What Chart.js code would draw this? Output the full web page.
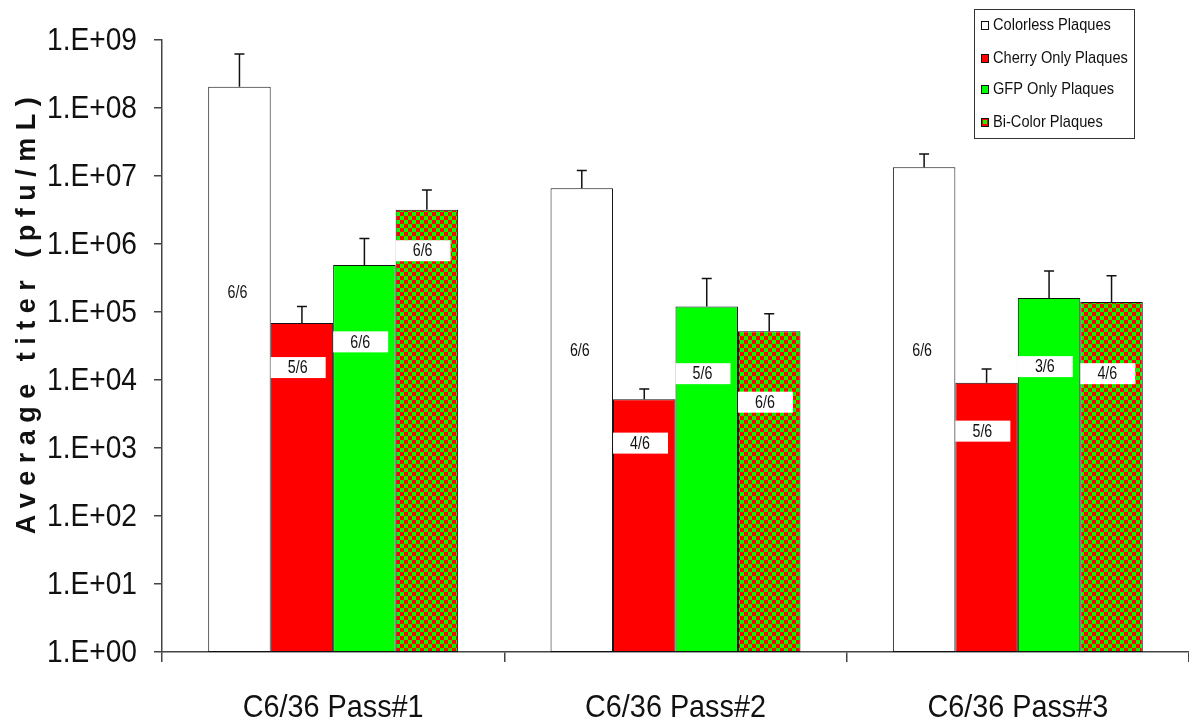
<!DOCTYPE html>
<html>
<head>
<meta charset="utf-8">
<script src="https://cdn.jsdelivr.net/npm/chart.js@4.4.1/dist/chart.umd.min.js"></script>
<style>
  html, body { margin: 0; padding: 0; background: #fff; }
  #wrap { width: 1189px; height: 724px; position: relative; }
</style>
</head>
<body>
<div id="wrap"><canvas id="myChart"></canvas></div>
<script>
// data
const categories = ['C6/36 Pass#1', 'C6/36 Pass#2', 'C6/36 Pass#3'];
const seriesNames = ['Colorless Plaques', 'Cherry Only Plaques', 'GFP Only Plaques', 'Bi-Color Plaques'];

const colorless = [2.05e8, 6.6e6, 1.35e7];
const cherryOnly = [6.9e4, 5.2e3, 9.1e3];
const gfpOnly = [4.9e5, 1.2e5, 1.6e5];
const biColor = [3.2e6, 5.2e4, 1.4e5];

// top of error bars
const colorlessErr = [6.2e8, 1.2e7, 2.1e7];
const cherryErr = [1.2e5, 7.4e3, 1.45e4];
const gfpErr = [1.2e6, 3.1e5, 4.0e5];
const biErr = [6.2e6, 9.4e4, 3.4e5];

// positive-sample fractions, and the titer level they are printed at
const colorlessN = ['6/6', '6/6', '6/6'];
const cherryN = ['5/6', '4/6', '5/6'];
const gfpN = ['6/6', '5/6', '3/6'];
const biN = ['6/6', '6/6', '4/6'];
const colorlessAt = [2.0e5, 2.8e4, 2.8e4];
const cherryAt = [1.55e4, 1.2e3, 1.8e3];
const gfpAt = [3.7e4, 1.26e4, 1.6e4];
const biAt = [8.1e5, 4.8e3, 1.26e4];

const yTicks = [1e0, 1e1, 1e2, 1e3, 1e4, 1e5, 1e6, 1e7, 1e8, 1e9];

const SANS = "'Liberation Sans', Arial, sans-serif";

// red / green checker fill
function checker() {
    var c = document.createElement('canvas');
    c.width = 8; c.height = 8;
    var g = c.getContext('2d');
    g.fillStyle = '#ff0000';
    g.fillRect(0, 0, 8, 8);
    g.fillStyle = '#00ff00';
    g.fillRect(0, 0, 4, 4);
    g.fillRect(4, 4, 4, 4);
    return g.createPattern(c, 'repeat');
}
const checkerFill = checker();

const errs = [colorlessErr, cherryErr, gfpErr, biErr];
const fracs = [colorlessN, cherryN, gfpN, biN];
const fracAt = [colorlessAt, cherryAt, gfpAt, biAt];

// no narrow font installed, so squeeze the text horizontally
function narrowText(ctx, txt, x, y, size, squeeze, align) {
    ctx.save();
    ctx.translate(x, y);
    ctx.scale(squeeze, 1);
    ctx.font = size + 'px ' + SANS;
    ctx.textAlign = align;
    ctx.textBaseline = 'middle';
    ctx.fillStyle = '#111';
    ctx.fillText(txt, 0, 0);
    ctx.restore();
}

const extras = {
    id: 'extras',
    afterDatasetsDraw(chart) {
        const ctx = chart.ctx;
        const y = chart.scales.y;
        ctx.save();
        // error bars (upper only)
        chart.data.datasets.forEach(function (ds, i) {
            chart.getDatasetMeta(i).data.forEach(function (bar, j) {
                var top = y.getPixelForValue(errs[i][j]);
                ctx.strokeStyle = '#111';
                ctx.lineWidth = 1.5;
                ctx.beginPath();
                ctx.moveTo(bar.x, bar.y);
                ctx.lineTo(bar.x, top);
                ctx.moveTo(bar.x - 5, top);
                ctx.lineTo(bar.x + 5, top);
                ctx.stroke();
            });
        });
        // n/6 labels
        chart.data.datasets.forEach(function (ds, i) {
            chart.getDatasetMeta(i).data.forEach(function (bar, j) {
                var ly = y.getPixelForValue(fracAt[i][j]);
                var left = bar.x - bar.width / 2;
                var cx = left + 27;
                if (i > 0) {
                    ctx.fillStyle = '#fff';
                    ctx.fillRect(left, ly - 10, 55, 21);
                } else {
                    cx = bar.x - 2;
                }
                narrowText(ctx, fracs[i][j], cx, ly + 1, 19, 0.75, 'center');
            });
        });
        ctx.restore();
    },
    afterDraw(chart) {
        const ctx = chart.ctx;
        const xs = chart.scales.x, ys = chart.scales.y;
        ctx.save();
        // tick labels
        yTicks.forEach(function (v) {
            var e = Math.round(Math.log10(v));
            narrowText(ctx, '1.E+' + (e < 10 ? '0' : '') + e, 137, ys.getPixelForValue(v) + 1, 32, 0.88, 'right');
        });
        categories.forEach(function (c, i) {
            narrowText(ctx, c, xs.getPixelForValue(i), 708, 32, 0.9, 'center');
        });
        // legend box
        ctx.fillStyle = '#fff';
        ctx.fillRect(974, 9, 160, 129);
        ctx.strokeStyle = '#333';
        ctx.lineWidth = 1;
        ctx.strokeRect(974.5, 9.5, 160, 129);
        var rows = [25, 58, 89, 122];
        chart.data.datasets.forEach(function (ds, i) {
            var ry = rows[i];
            ctx.fillStyle = ds.backgroundColor;
            if (i == 3) ctx.fillStyle = '#ff0000';
            ctx.fillRect(981, ry - 4, 8, 9);
            if (i == 3) {
                ctx.fillStyle = '#00ff00';
                ctx.fillRect(983, ry - 2, 4, 4);
            }
            ctx.strokeStyle = '#111';
            ctx.strokeRect(981.5, ry - 3.5, 7, 8);
            narrowText(ctx, ds.label, 993, ry, 17, 0.86, 'left');
        });
        // y axis title
        ctx.translate(28, 312);
        ctx.rotate(-Math.PI / 2);
        ctx.font = 'bold 27px ' + SANS;
        ctx.letterSpacing = '7.5px';
        ctx.fillStyle = '#111';
        ctx.textAlign = 'center';
        ctx.textBaseline = 'middle';
        ctx.fillText('Average titer (pfu/mL)', 0, 0);
        ctx.restore();
    }
};

const data = {
    labels: categories,
    datasets: [
        { label: seriesNames[0], data: colorless, backgroundColor: '#ffffff' },
        { label: seriesNames[1], data: cherryOnly, backgroundColor: '#ff0000' },
        { label: seriesNames[2], data: gfpOnly, backgroundColor: '#00ff00' },
        { label: seriesNames[3], data: biColor, backgroundColor: checkerFill }
    ].map(function (d) {
        d.borderColor = '#111';
        d.borderWidth = 1;
        d.borderSkipped = false;
        d.barPercentage = 1;
        d.categoryPercentage = 0.73;
        return d;
    })
};

const config = {
    type: 'bar',
    data: data,
    options: {
        responsive: true,
        maintainAspectRatio: false,
        animation: false,
        layout: { padding: { top: 40, right: 0, left: 0, bottom: 0 } },
        plugins: { legend: { display: false }, tooltip: { enabled: false } },
        scales: {
            x: {
                grid: { offset: true, drawOnChartArea: false, tickLength: 10, color: '#444', lineWidth: 1.5 },
                border: { color: '#444', width: 1.5 },
                ticks: { color: 'rgba(0,0,0,0)', font: { size: 32, family: SANS }, padding: 18, maxRotation: 0 },
                afterFit: function (s) { s.height = 72; }
            },
            y: {
                type: 'logarithmic',
                min: 1,
                max: 1e9,
                grid: { drawOnChartArea: false, tickLength: 8, color: '#444', lineWidth: 1.5 },
                border: { color: '#444', width: 1.5 },
                afterBuildTicks: function (s) { s.ticks = yTicks.map(function (v) { return { value: v }; }); },
                ticks: { color: 'rgba(0,0,0,0)', font: { size: 32, family: SANS }, padding: 16 },
                afterFit: function (s) { s.width = 162; }
            }
        }
    },
    plugins: [extras]
};

const myChart = new Chart(document.getElementById('myChart'), config);
</script>
</body>
</html>
